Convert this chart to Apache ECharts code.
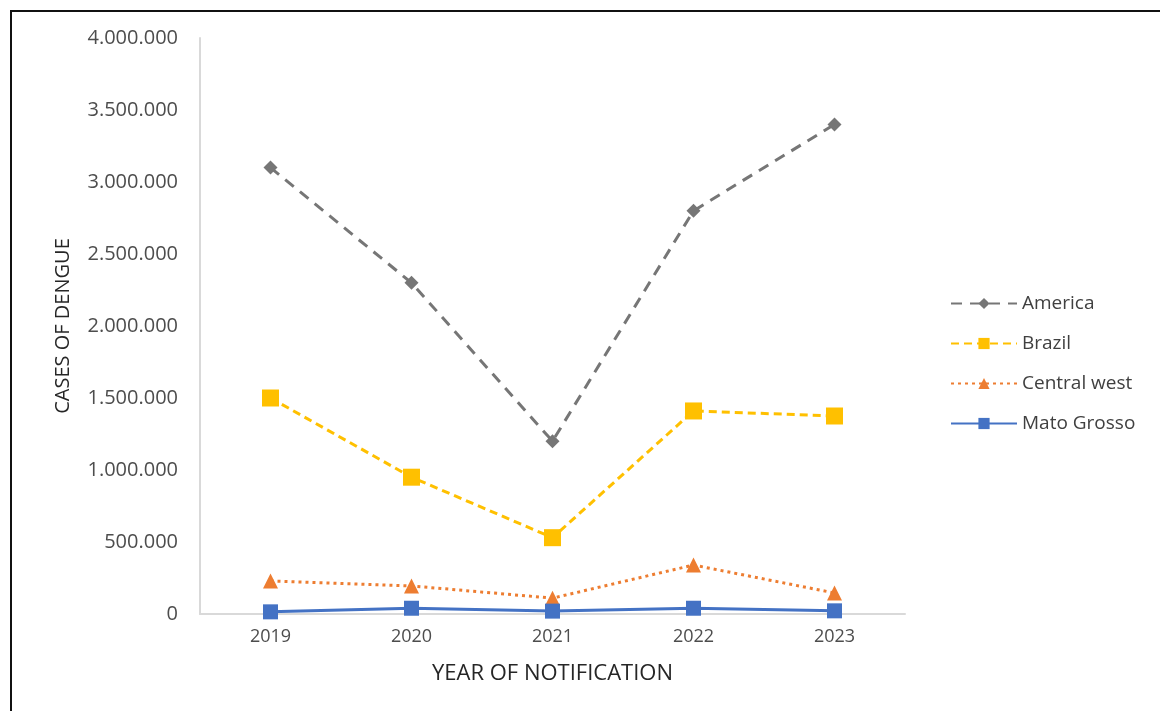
<!DOCTYPE html>
<html>
<head>
<meta charset="utf-8">
<script src="https://cdn.jsdelivr.net/npm/echarts@6/dist/echarts.min.js"></script>
<style>
  html, body { margin: 0; padding: 0; background: #fff; }
  #frame { position: absolute; left: 10px; top: 10px; width: 1150px; height: 701px;
           border-left: 2px solid #111; border-top: 2px solid #111; box-sizing: border-box; }
  #chart { position: absolute; left: 0; top: 0; width: 1160px; height: 711px; }
</style>
</head>
<body>
<div id="frame"></div>
<div id="chart"></div>
<script>
// Reported dengue cases by year of notification
const years = ['2019', '2020', '2021', '2022', '2023'];
const america = [3100000, 2300000, 1200000, 2800000, 3400000];
const brazil = [1500000, 950000, 530000, 1410000, 1375000];
const centralWest = [230000, 195000, 110000, 340000, 146000];
const matoGrosso = [15000, 40000, 20000, 40000, 22000];
const seriesNames = ['America', 'Brazil', 'Central west', 'Mato Grosso'];

const fontFamily = '"Open Sans", "Noto Sans", sans-serif';

// thousands separated with dots
function fmt(v) {
  return String(v).replace(/\B(?=(\d{3})+(?!\d))/g, '.');
}

const chart = echarts.init(document.getElementById('chart'), null, { renderer: 'canvas' });

chart.setOption({
  backgroundColor: 'transparent',
  animation: false,
  grid: { left: 200, right: 255, top: 38, bottom: 97 },
  legend: {
    orient: 'vertical',
    left: 945,
    top: 289,
    itemWidth: 66,
    itemHeight: 14,
    itemGap: 21,
    data: seriesNames,
    textStyle: { fontFamily, fontSize: 19, color: '#404040', padding: [0, 0, 0, 0] }
  },
  xAxis: {
    type: 'category',
    data: years,
    boundaryGap: true,
    name: 'YEAR OF NOTIFICATION',
    nameLocation: 'middle',
    nameGap: 49,
    nameTextStyle: { fontFamily, fontSize: 22, color: '#262626' },
    axisLine: { lineStyle: { color: '#d9d9d9', width: 2 } },
    axisTick: { show: false },
    axisLabel: { fontFamily, fontSize: 18, color: '#4d4d4d', margin: 14 }
  },
  yAxis: {
    type: 'value',
    min: 0,
    max: 4000000,
    interval: 500000,
    name: 'CASES OF DENGUE',
    nameLocation: 'middle',
    nameRotate: 90,
    nameGap: 127,
    nameTextStyle: { fontFamily, fontSize: 20, color: '#262626' },
    axisLine: { show: true, lineStyle: { color: '#d9d9d9', width: 2 } },
    axisTick: { show: false },
    splitLine: { show: false },
    axisLabel: { fontFamily, fontSize: 20, color: '#4d4d4d', margin: 22, formatter: fmt }
  },
  series: [
    {
      name: 'America', type: 'line', data: america,
      symbol: 'diamond', symbolSize: 14,
      itemStyle: { color: '#767676' },
      lineStyle: { color: '#767676', width: 3, type: [11, 8] }
    },
    {
      name: 'Brazil', type: 'line', data: brazil,
      symbol: 'rect', symbolSize: 17,
      itemStyle: { color: '#FFC000' },
      lineStyle: { color: '#FFC000', width: 3, type: [8, 5] }
    },
    {
      name: 'Central west', type: 'line', data: centralWest,
      symbol: 'triangle', symbolSize: 15,
      itemStyle: { color: '#ED7D31' },
      lineStyle: { color: '#ED7D31', width: 3, type: [3, 4] }
    },
    {
      name: 'Mato Grosso', type: 'line', data: matoGrosso,
      symbol: 'rect', symbolSize: 15,
      itemStyle: { color: '#4472C4' },
      lineStyle: { color: '#4472C4', width: 3 }
    }
  ]
});
</script>
</body>
</html>
